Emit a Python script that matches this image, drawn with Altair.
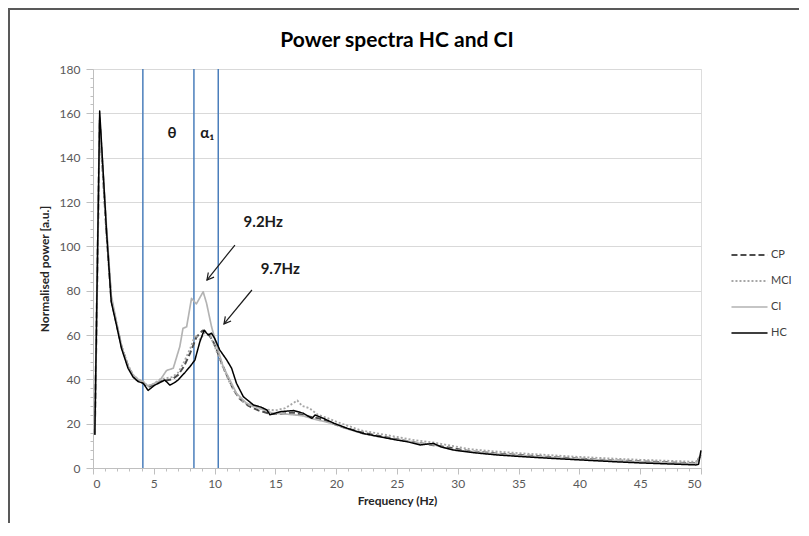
import altair as alt
import pandas as pd

# ---------------- data ----------------
series_names = ["CP", "MCI", "CI", "HC"]
series_colors = ["#4d4d4d", "#a6a6a6", "#b3b3b3", "#000000"]
series_dash = [[6, 3], [2, 2], [1, 0], [1, 0]]
series_width = [2, 1.5, 3.2, 4.5]

freq_hc = [0.15, 0.55, 1.1, 1.5, 1.93, 2.34, 2.88, 3.3, 3.7, 4.12, 4.53, 5.08, 5.5, 5.9,
           6.32, 6.7, 7.0, 7.55, 7.97, 8.38, 8.79, 9.14, 9.47, 9.75, 10.0, 10.43, 11.0,
           11.4, 11.8, 12.36, 13.2, 13.8, 14.3, 14.55, 15.4, 16.5, 17.3, 18.0, 18.26,
           18.95, 19.8, 20.9, 22.2, 23.6, 25.0, 25.8, 26.9, 28.0, 28.6, 29.65, 31.3,
           33.2, 35.1, 37.5, 40.9, 43.0, 45.0, 47.5, 49.6, 49.8, 50.0]
power_hc = [15, 161, 108, 75, 64.5, 54, 45, 41, 39, 38.3, 35, 37.4, 38.5, 39.7,
            37.4, 38.5, 39.7, 43, 45.7, 48.7, 57, 62.2, 60, 60.8, 58.5, 53.2, 48.7,
            45, 38.2, 32.2, 28.4, 27.5, 26.2, 24, 25.4, 25.9, 24.7, 22.4, 23.9,
            22.4, 20.2, 17.9, 15.6, 14.1, 12.6, 11.9, 10.4, 11.1, 9.6, 8.1, 6.9,
            5.9, 5.2, 4.4, 3.4, 2.8, 2.3, 1.8, 1.4, 1.7, 8]

freq_ci = [0.15, 0.55, 1.1, 1.5, 1.93, 2.34, 2.88, 3.3, 3.7, 4.12, 4.5, 5.0, 5.5, 6.05,
           6.6, 7.14, 7.4, 7.7, 8.1, 8.5, 9.06, 9.34, 9.75, 10.2, 10.7, 11.26, 11.8,
           12.6, 13.7, 14.8, 15.5, 16.5, 17.3, 18.2, 19.0, 20.0, 21.0, 22.2, 23.6,
           25.0, 26.0, 27.0, 28.0, 29.0, 30.0, 31.3, 33.2, 35.0, 37.5, 41.0, 43.0,
           45.0, 47.5, 49.6, 50.0]
power_ci = [15, 158, 110, 78, 66, 55, 46, 42, 40, 39, 37, 38, 39.5, 44,
            45, 54.8, 63, 63.7, 76.5, 74, 79.5, 74.3, 63.7, 54.8, 45.7, 39.7, 33.7,
            29.3, 27, 24.7, 24.5, 24, 23.5, 22, 21, 19.5, 17.5, 15.5, 14,
            12.8, 12, 11, 10.5, 9, 8, 7.3, 6.3, 5.7, 4.8, 3.8, 3.3,
            2.8, 2.3, 2.0, 6]

freq_cp = [0.15, 0.55, 1.1, 1.5, 1.93, 2.34, 2.88, 3.3, 3.7, 4.12, 4.5, 5.0, 5.5, 6.0,
           6.5, 7.0, 7.5, 8.0, 8.5, 9.0, 9.4, 9.8, 10.2, 10.6, 11.0, 11.5, 12.0, 12.8,
           13.6, 14.5, 15.5, 16.5, 17.5, 18.5, 19.5, 20.5, 22.0, 23.5, 25.0, 26.5,
           28.0, 29.5, 31.0, 33.0, 35.0, 37.5, 40.0, 42.5, 45.0, 47.5, 49.6, 50.0]
power_cp = [15, 157, 107, 76, 65, 55, 46, 41.5, 39.5, 38.5, 36.5, 37.5, 39, 39.5,
            40, 42, 46, 52, 59, 62, 61, 58, 53, 47, 42, 36, 31.5, 28,
            26, 24.5, 24.5, 25, 23.5, 22.5, 20.5, 18.5, 16.2, 14.5, 13, 11.5,
            10.3, 9, 7.6, 6.6, 5.9, 5, 4.2, 3.5, 3, 2.5, 2.1, 6]

freq_mci = [0.15, 0.55, 1.1, 1.5, 1.93, 2.34, 2.88, 3.3, 3.7, 4.12, 4.5, 5.0, 5.5, 6.0,
            6.5, 7.0, 7.5, 8.0, 8.4, 8.8, 9.2, 9.6, 10.0, 10.4, 10.8, 11.2, 11.7, 12.3,
            13.0, 14.0, 15.0, 15.8, 16.4, 16.8, 17.2, 17.8, 18.5, 19.3, 20.2, 21.0,
            22.0, 23.5, 25.0, 26.5, 28.0, 29.5, 31.0, 33.0, 35.0, 37.5, 40.0, 42.5,
            45.0, 47.5, 49.6, 50.0]
power_mci = [15, 155, 106, 77, 65, 55, 46.5, 42, 40, 39, 37, 38, 40, 40.5,
             41, 43, 48, 54, 60, 58, 61, 60, 55, 49, 44, 39, 34, 30,
             28, 26.5, 26, 27, 29, 30.5, 28, 27, 24, 22.5, 20.5, 19,
             17, 15.5, 14, 12.5, 11.5, 10, 8.5, 7.5, 6.7, 5.8, 5, 4.3,
             3.7, 3.2, 2.8, 6]

band_edges = [4.1, 8.3, 10.3]
band_labels = ["θ", "α₁"]
band_label_freq = [6.5, 9.4]
band_label_power = [151, 151]

peak_labels = ["9.2Hz", "9.7Hz"]
peak_label_freq = [14.0, 15.4]
peak_label_power = [111, 90]
arrow_start_freq = [11.67, 13.07]
arrow_start_power = [100.6, 80.3]
arrow_end_freq = [9.37, 10.77]
arrow_end_power = [84.8, 65.0]

x_tick_values = list(range(0, 51))
y_tick_values = list(range(0, 181, 4))

FONT = "Lato"

# ---------------- tables ----------------
rows = []
for name, fs, vs in [("CP", freq_cp, power_cp), ("MCI", freq_mci, power_mci),
                     ("CI", freq_ci, power_ci), ("HC", freq_hc, power_hc)]:
    for f, v in zip(fs, vs):
        rows.append({"series": name, "freq": f, "power": v})
df = pd.DataFrame(rows)

bands_df = pd.DataFrame({"freq": band_edges, "power": [0] * len(band_edges),
                         "hi": [180] * len(band_edges)})
band_lab_df = pd.DataFrame({"freq": band_label_freq, "power": band_label_power,
                            "label": band_labels})
peak_df = pd.DataFrame({"freq": peak_label_freq, "power": peak_label_power,
                        "label": peak_labels})
arrow_rows = []
for i in range(len(arrow_start_freq)):
    arrow_rows.append({"id": i, "o": 0, "freq": arrow_start_freq[i], "power": arrow_start_power[i]})
    arrow_rows.append({"id": i, "o": 1, "freq": arrow_end_freq[i], "power": arrow_end_power[i]})
arrow_df = pd.DataFrame(arrow_rows)
head_df = pd.DataFrame({"freq": arrow_end_freq, "power": arrow_end_power})

x_scale = alt.Scale(domain=[0, 50], nice=False, zero=False)
y_scale = alt.Scale(domain=[0, 180], nice=False)

x_axis = alt.Axis(
    values=x_tick_values,
    labelExpr="datum.value % 5 == 0 ? datum.label : ''",
    grid=False,
    tickSize={"condition": {"test": "datum.value % 5 == 0", "value": 6}, "value": 3},
    tickColor="#bfbfbf", domainColor="#bfbfbf", domainWidth=1,
    labelFont=FONT, labelFontSize=12, labelColor="#595959", labelPadding=4,
    labelOverlap=False,
    titleFont=FONT, titleFontSize=12, titleFontWeight="bold", titleColor="#262626",
    titlePadding=6,
)
y_axis = alt.Axis(
    values=y_tick_values,
    labelExpr="datum.value % 20 == 0 ? datum.label : ''",
    grid=True,
    gridColor="#d9d9d9",
    gridOpacity={"condition": {"test": "datum.value % 20 == 0", "value": 1}, "value": 0},
    tickSize={"condition": {"test": "datum.value % 20 == 0", "value": 7}, "value": 3},
    tickColor="#bfbfbf", domainColor="#bfbfbf", domainWidth=1,
    labelFont=FONT, labelFontSize=12, labelColor="#595959", labelPadding=6,
    labelOverlap=False,
    titleFont=FONT, titleFontSize=12, titleFontWeight="bold", titleColor="#262626",
    titlePadding=8,
)

X = alt.X("freq:Q", scale=x_scale, axis=x_axis, title="Frequency (Hz)")
Y = alt.Y("power:Q", scale=y_scale, axis=y_axis, title="Normalised power [a.u.]")

legend = alt.Legend(
    title=None, orient="none", legendX=637, legendY=176,
    symbolType="stroke", symbolSize=1300, clipHeight=20, rowPadding=6,
    labelFont=FONT, labelFontSize=11, labelColor="#404040", labelOffset=2,
)

enc = dict(
    x=X, y=Y,
    color=alt.Color("series:N", scale=alt.Scale(domain=series_names, range=series_colors),
                    legend=legend),
    strokeDash=alt.StrokeDash("series:N", scale=alt.Scale(domain=series_names, range=series_dash),
                              legend=legend),
    strokeWidth=alt.StrokeWidth("series:N", scale=alt.Scale(domain=series_names, range=series_width),
                                legend=legend),
)

frame = alt.Chart(pd.DataFrame({"k": [0]})).mark_rect(
    fillOpacity=0, stroke="#595959", strokeWidth=2
).encode(x=alt.value(-84), y=alt.value(-60), x2=alt.value(760), y2=alt.value(520))

rules = alt.Chart(bands_df).mark_rule(color="#4a7ebb", strokeWidth=1.5).encode(
    x=X, y=Y, y2="hi:Q")

line_layers = []
for name in series_names:
    line_layers.append(
        alt.Chart(df).transform_filter(alt.datum.series == name)
        .mark_line(strokeJoin="round", strokeCap="butt").encode(**enc)
    )

band_text = alt.Chart(band_lab_df).mark_text(
    font=FONT, fontSize=15, fontWeight="bold", color="#1a1a1a"
).encode(x=X, y=Y, text="label:N")

peak_text = alt.Chart(peak_df).mark_text(
    font=FONT, fontSize=15, fontWeight="bold", color="#1a1a1a"
).encode(x=X, y=Y, text="label:N")

arrows = alt.Chart(arrow_df).mark_line(color="#1a1a1a", strokeWidth=1.2).encode(
    x=X, y=Y, detail="id:N", order="o:Q")

heads = alt.Chart(head_df).mark_point(
    shape="M -0.55 -1 L 0 0 L 0.55 -1", filled=False, stroke="#1a1a1a",
    strokeWidth=1.2, size=180, angle=39, opacity=1
).encode(x=X, y=Y)

chart = alt.layer(rules, *line_layers, band_text, peak_text, arrows, heads, frame).properties(
    width=608, height=399,
    title=alt.TitleParams("Power spectra HC and CI", font=FONT, fontSize=21,
                          fontWeight="bold", color="#000000", offset=0, dy=43,
                          anchor="middle"),
    padding={"left": 85, "top": 61, "right": 98, "bottom": 55},
    autosize=alt.AutoSizeParams(type="none"),
).configure_view(stroke=None).configure_axis(labelOverlap=False).configure(background="#ffffff")

chart.save("out.html", embed_options={"renderer": "svg", "actions": False})
